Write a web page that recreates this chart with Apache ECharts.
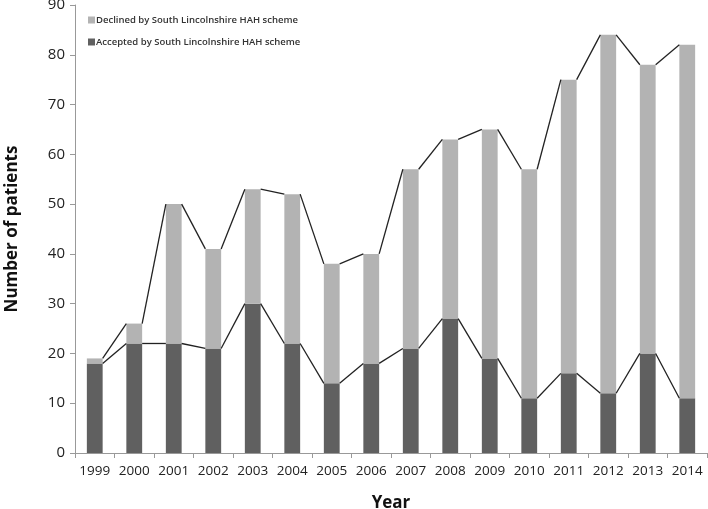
<!DOCTYPE html>
<html>
<head>
<meta charset="utf-8">
<script src="https://cdn.jsdelivr.net/npm/echarts@6/dist/echarts.min.js"></script>
<style>html,body{margin:0;padding:0;background:#fff}#c{width:708px;height:509px}</style>
</head>
<body>
<div id="c"></div>
<script>
var years = ['1999','2000','2001','2002','2003','2004','2005','2006','2007','2008','2009','2010','2011','2012','2013','2014'];
var accepted = [18,22,22,21,30,22,14,18,21,27,19,11,16,12,20,11];
var total = [19,26,50,41,53,52,38,40,57,63,65,57,75,84,78,82];
var declined = total.map(function(t,i){return t-accepted[i];});
var yTicks = [0,10,20,30,40,50,60,70,80,90];

var BAR_RATIO = 0.4;
function segData(arr){
  var d = [];
  for (var i = 0; i < arr.length - 1; i++) d.push([i, arr[i], arr[i+1]]);
  return d;
}
function renderSeg(params, api){
  var i = api.value(0);
  var half = api.size([1,0])[0] * BAR_RATIO / 2;
  var p1 = api.coord([i, api.value(1)]);
  var p2 = api.coord([i+1, api.value(2)]);
  return {type:'line', shape:{x1:p1[0]+half, y1:p1[1], x2:p2[0]-half, y2:p2[1]},
    style:{stroke:'#222', lineWidth:1.3}};
}
var font = 'Open Sans, DejaVu Sans, sans-serif';
var chart = echarts.init(document.getElementById('c'));
chart.setOption({
  animation:false,
  grid:{left:75, right:1, top:5, bottom:56, containLabel:false, outerBoundsMode:'none'},
  legend:{
    orient:'vertical', left:83, top:10, itemWidth:7, itemHeight:7, itemGap:12,
    icon:'rect',
    data:['Declined by South Lincolnshire HAH scheme','Accepted by South Lincolnshire HAH scheme'],
    textStyle:{fontFamily:font, fontSize:9.5, fontWeight:600, color:'#333', padding:[0,0,0,-4]}
  },
  xAxis:{
    type:'category', data:years,
    name:'Year', nameLocation:'middle', nameGap:42,
    nameTextStyle:{fontFamily:font, fontSize:17, fontWeight:'bold', color:'#111'},
    axisLine:{lineStyle:{color:'#999', width:1}},
    axisTick:{show:true, inside:false, length:5, lineStyle:{color:'#999'}},
    axisLabel:{fontFamily:font, fontSize:13.5, color:'#222', margin:11, interval:0, hideOverlap:false}
  },
  yAxis:{
    type:'value', min:0, max:90, interval:10,
    name:'Number of patients', nameLocation:'middle', nameGap:54,
    nameTextStyle:{fontFamily:font, fontSize:17, fontWeight:'bold', color:'#111'},
    axisLine:{show:true, lineStyle:{color:'#999', width:1}},
    axisTick:{show:true, length:5, lineStyle:{color:'#999'}},
    splitLine:{show:false},
    axisLabel:{fontFamily:font, fontSize:15, color:'#222', margin:10,
      formatter:function(v){return yTicks.indexOf(v)>=0 ? String(v) : '';}}
  },
  series:[
    {name:'Accepted by South Lincolnshire HAH scheme', type:'bar', stack:'a', data:accepted,
      barWidth:(BAR_RATIO*100)+'%', itemStyle:{color:'#606060'}},
    {name:'Declined by South Lincolnshire HAH scheme', type:'bar', stack:'a', data:declined,
      barWidth:(BAR_RATIO*100)+'%', itemStyle:{color:'#b3b3b3'}},
    {type:'custom', data:segData(accepted), renderItem:renderSeg, encode:{x:0,y:1}, silent:true, z:5},
    {type:'custom', data:segData(total), renderItem:renderSeg, encode:{x:0,y:1}, silent:true, z:5}
  ]
});
</script>
</body>
</html>
